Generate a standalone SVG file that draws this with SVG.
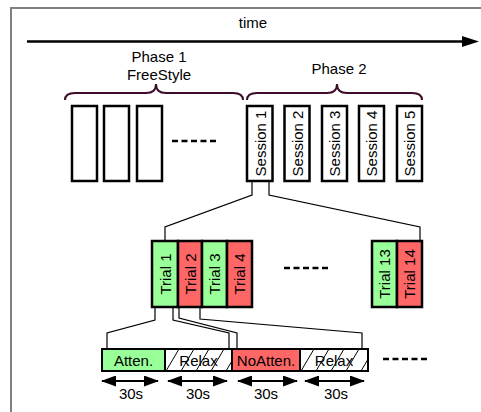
<svg xmlns="http://www.w3.org/2000/svg" width="481" height="412" viewBox="0 0 481 412">
<style>
text{font-family:"Liberation Sans",Arial,sans-serif;font-size:15px;fill:#000}
.c{text-anchor:middle}
.v{text-anchor:middle;dominant-baseline:central}
.box{fill:#fff;stroke:#000;stroke-width:2.5}
.g{fill:#99ff99;stroke:#000;stroke-width:2.5}
.r{fill:#ff6666;stroke:#000;stroke-width:2.5}
.bb{stroke:#000;stroke-width:2}
.conn{fill:none;stroke:#000;stroke-width:1.2}
.brace{fill:none;stroke:#3e0c2b;stroke-width:2}
.dash{stroke:#000;stroke-width:2.5;stroke-dasharray:6 3.5}
.dbl{stroke:#000;stroke-width:1.8;marker-start:url(#ah);marker-end:url(#ah)}
</style>
<defs>
<marker id="ah" markerWidth="15" markerHeight="11" refX="14" refY="5.5" orient="auto-start-reverse" markerUnits="userSpaceOnUse">
<path d="M0,0 L15,5.5 L0,11 Z" fill="#000"/>
</marker>
<pattern id="hatch" patternUnits="userSpaceOnUse" x="0" y="349" width="15" height="22">
<rect width="15" height="22" fill="#fff"/>
<path d="M1,22 L14,0" stroke="#000" stroke-width="1"/>
</pattern>
</defs>

<path d="M11,412 L11,8 L481,8" fill="none" stroke="#808080" stroke-width="2"/>

<g id="time">
<text class="c" x="253" y="28">time</text>
<line x1="27" y1="41.5" x2="463" y2="41.5" stroke="#000" stroke-width="2.5"/>
<path d="M462,36 L479,41.5 L462,47 Z" fill="#000"/>
</g>

<g id="phase1">
<text class="c" x="159" y="62">Phase 1</text>
<text class="c" x="159" y="80">FreeStyle</text>
<path class="brace" d="M65,100 Q65,93 75,93 L146,93 Q156,93 156,84 Q156,93 166,93 L233,93 Q243,93 243,100"/>
<rect class="box" x="72" y="106" width="25" height="75"/>
<rect class="box" x="104" y="106" width="25" height="75"/>
<rect class="box" x="137" y="106" width="25" height="75"/>
<line class="dash" x1="172" y1="141" x2="218" y2="141"/>
</g>

<g id="phase2">
<text class="c" x="339" y="74">Phase 2</text>
<path class="brace" d="M247,100 Q247,93 257,93 L327,93 Q337,93 337,84 Q337,93 347,93 L412,93 Q422,93 422,100"/>
</g>

<g id="session1"><rect class="box" x="247" y="106" width="25.5" height="75"/><text class="v" transform="translate(260,143.5) rotate(-90)">Session 1</text></g>
<g id="session2"><rect class="box" x="284.5" y="106" width="25" height="75"/><text class="v" transform="translate(297,143.5) rotate(-90)">Session 2</text></g>
<g id="session3"><rect class="box" x="322" y="106" width="25" height="75"/><text class="v" transform="translate(334.5,143.5) rotate(-90)">Session 3</text></g>
<g id="session4"><rect class="box" x="359" y="106" width="25" height="75"/><text class="v" transform="translate(371.5,143.5) rotate(-90)">Session 4</text></g>
<g id="session5"><rect class="box" x="397" y="106" width="25" height="75"/><text class="v" transform="translate(409.5,143.5) rotate(-90)">Session 5</text></g>

<g id="connectors">
<polyline class="conn" points="252,181 252,195 165,227 165,241"/>
<polyline class="conn" points="269,181 269,195 420,227 420,241"/>
<polyline class="conn" points="155,307 155,320 107,333 107,349"/>
<polyline class="conn" points="173,307 173,320 229,333 229,349"/>
<polyline class="conn" points="179,307 179,318 237,333 237,349"/>
<polyline class="conn" points="200,307 200,319 362,333 362,349"/>
</g>

<g id="trial1"><rect class="g" x="152" y="241" width="26" height="66"/><text class="v" transform="translate(165,274) rotate(-90)">Trial 1</text></g>
<g id="trial2"><rect class="r" x="178" y="241" width="24" height="66"/><text class="v" transform="translate(190,274) rotate(-90)">Trial 2</text></g>
<g id="trial3"><rect class="g" x="202" y="241" width="25" height="66"/><text class="v" transform="translate(214.5,274) rotate(-90)">Trial 3</text></g>
<g id="trial4"><rect class="r" x="227" y="241" width="25" height="66"/><text class="v" transform="translate(239.5,274) rotate(-90)">Trial 4</text></g>
<line class="dash" x1="284" y1="268" x2="330" y2="268"/>
<g id="trial13"><rect class="g" x="372" y="241" width="25" height="66"/><text class="v" transform="translate(384.5,274) rotate(-90)">Trial 13</text></g>
<g id="trial14"><rect class="r" x="397" y="241" width="25" height="66"/><text class="v" transform="translate(409.5,274) rotate(-90)">Trial 14</text></g>

<g id="atten"><rect class="bb" x="102" y="349" width="63" height="22" fill="#99ff99"/><text class="c" x="133.5" y="366">Atten.</text></g>
<g id="relax1"><rect class="bb" x="165" y="349" width="67" height="22" fill="url(#hatch)"/><text class="c" x="198.5" y="366">Relax</text></g>
<g id="noatten"><rect class="bb" x="232" y="349" width="68" height="22" fill="#ff6666"/><text class="c" x="266" y="366">NoAtten.</text></g>
<g id="relax2"><rect class="bb" x="300" y="349" width="68" height="22" fill="url(#hatch)"/><text class="c" x="334" y="366">Relax</text></g>
<line class="dash" x1="383" y1="359" x2="428" y2="359"/>

<g id="durations">
<line class="dbl" x1="102" y1="381" x2="158" y2="381"/>
<line class="dbl" x1="168" y1="381" x2="227" y2="381"/>
<line class="dbl" x1="238" y1="381" x2="297" y2="381"/>
<line class="dbl" x1="305" y1="381" x2="364" y2="381"/>
<text class="c" x="131" y="399">30s</text>
<text class="c" x="198" y="399">30s</text>
<text class="c" x="266" y="399">30s</text>
<text class="c" x="336" y="399">30s</text>
</g>
</svg>
